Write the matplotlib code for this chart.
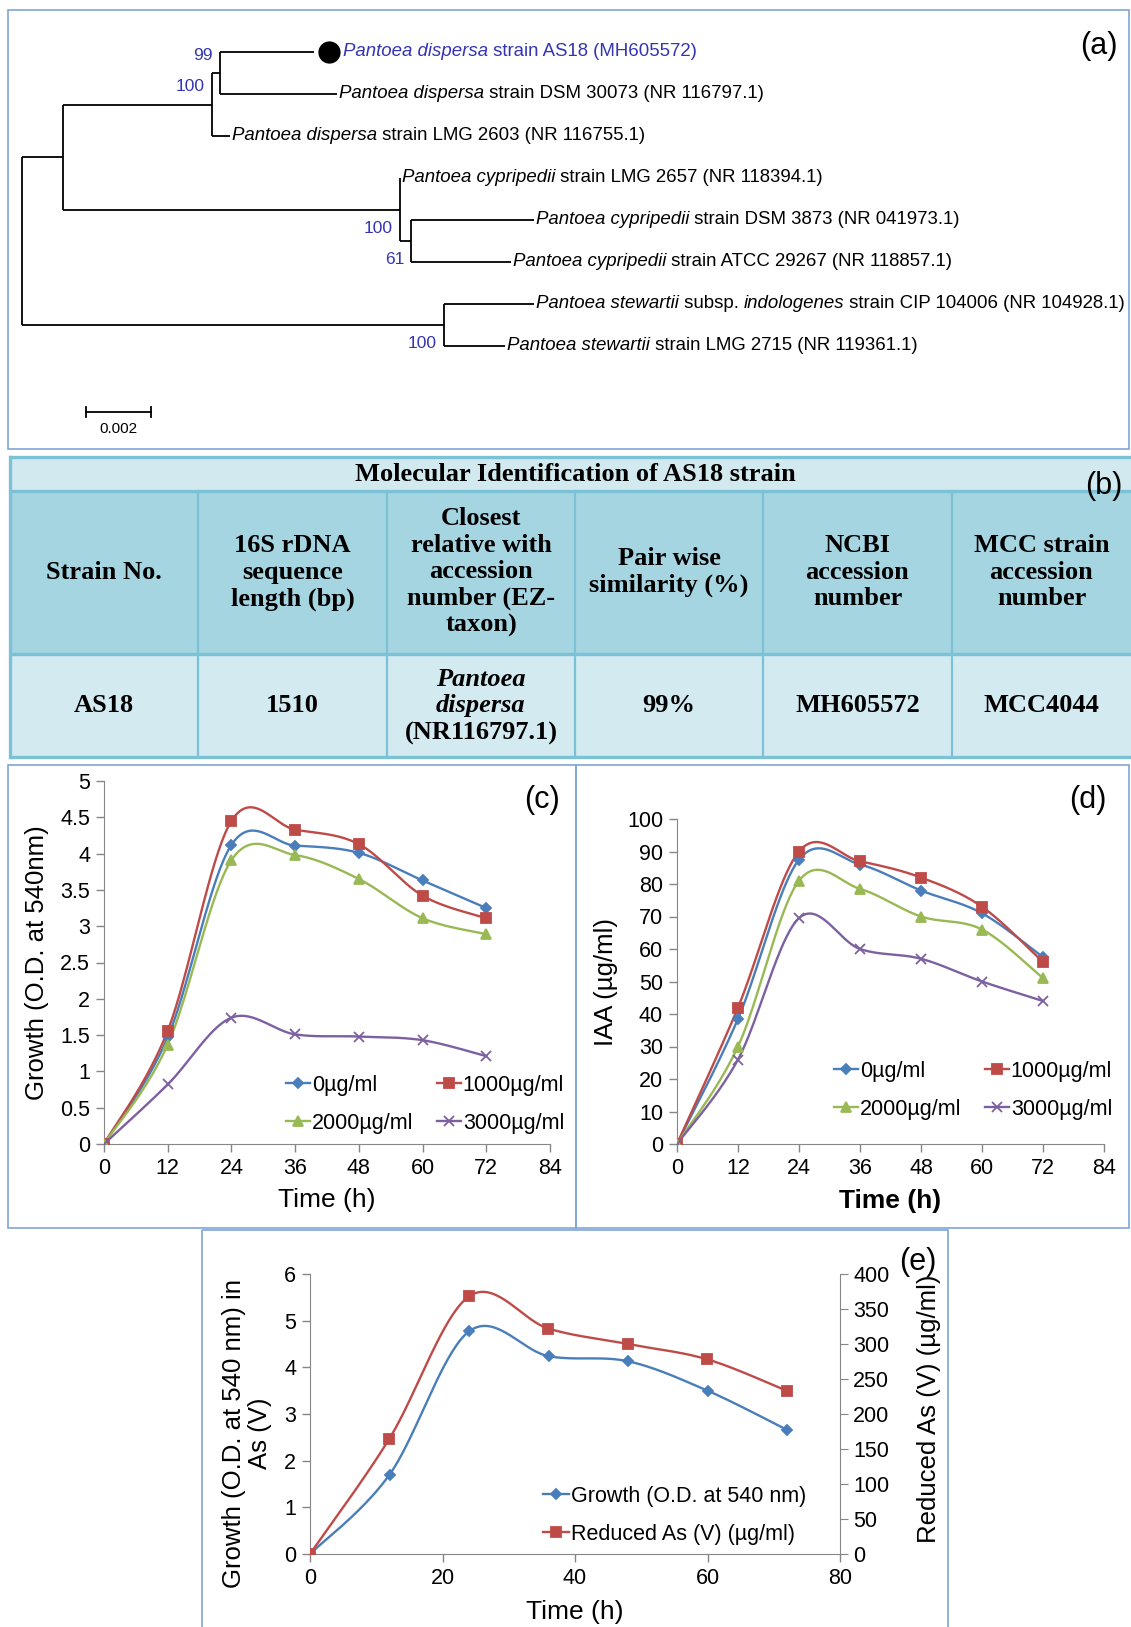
import matplotlib
matplotlib.use("Agg")
import matplotlib.pyplot as plt
from matplotlib.patches import Rectangle
from matplotlib.ticker import FuncFormatter
import numpy as np

W, H = 1131, 1627
SANS = ["Liberation Sans", "DejaVu Sans"]
SERIF = ["Liberation Serif", "DejaVu Serif"]
plt.rcParams["font.family"] = SANS

# ---------------- (a) tree ----------------
leaf_labels = [
    [("Pantoea dispersa", "italic"), (" strain AS18 (MH605572)", "normal")],
    [("Pantoea dispersa", "italic"), (" strain DSM 30073 (NR 116797.1)", "normal")],
    [("Pantoea dispersa", "italic"), (" strain LMG 2603 (NR 116755.1)", "normal")],
    [("Pantoea cypripedii", "italic"), (" strain LMG 2657 (NR 118394.1)", "normal")],
    [("Pantoea cypripedii", "italic"), (" strain DSM 3873 (NR 041973.1)", "normal")],
    [("Pantoea cypripedii", "italic"), (" strain ATCC 29267 (NR 118857.1)", "normal")],
    [("Pantoea stewartii", "italic"), (" subsp. ", "normal"), ("indologenes", "italic"),
     (" strain CIP 104006 (NR 104928.1)", "normal")],
    [("Pantoea stewartii", "italic"), (" strain LMG 2715 (NR 119361.1)", "normal")],
]
query_leaf = 0
# (branch length, leaf index) or (branch length, [children], bootstrap)
tree = (0.0, [
    (0.00126, [
        (0.00458, [
            (0.00025, [(0.00289, 0), (0.00360, 1)], 99),
            (0.00055, 2),
        ], 100),
        (0.01037, [
            (0.0, 3),
            (0.00034, [(0.00378, 4), (0.00308, 5)], 61),
        ], 100),
    ]),
    (0.01298, [(0.00277, 6), (0.00188, 7)], 100),
])
scale_bar = 0.002

# ---------------- (b) table ----------------
table_title = "Molecular Identification of AS18 strain"
table_header = ["Strain No.", "16S rDNA\nsequence\nlength (bp)",
                "Closest\nrelative with\naccession\nnumber (EZ-\ntaxon)",
                "Pair wise\nsimilarity (%)", "NCBI\naccession\nnumber",
                "MCC strain\naccession\nnumber"]
table_row = ["AS18", "1510", "Pantoea\ndispersa", "99%", "MH605572", "MCC4044"]
closest_accession = "(NR116797.1)"

# ---------------- (c)-(e) curves ----------------
hours = [0, 12, 24, 36, 48, 60, 72]
conc_labels = ["0µg/ml", "1000µg/ml", "2000µg/ml", "3000µg/ml"]
growth_0 = [0, 1.47, 4.12, 4.11, 4.01, 3.63, 3.25]
growth_1000 = [0, 1.56, 4.45, 4.33, 4.13, 3.42, 3.11]
growth_2000 = [0, 1.37, 3.91, 3.98, 3.65, 3.11, 2.89]
growth_3000 = [0, 0.82, 1.74, 1.51, 1.48, 1.43, 1.21]
iaa_0 = [0, 38.5, 87.5, 86, 78, 71, 57.5]
iaa_1000 = [0, 42, 90, 87, 82, 73, 56]
iaa_2000 = [0, 30, 81, 78.5, 70, 66, 51]
iaa_3000 = [0, 26, 69.5, 60, 57, 50, 44]
as_growth = [0, 1.70, 4.77, 4.24, 4.13, 3.50, 2.66]
as_reduced = [0, 165, 368, 322, 300, 278, 233]

colors = ["#4A7EBB", "#BE4B48", "#98B954", "#7D60A0"]
markers = ["D", "s", "^", "x"]
msizes = [5.5, 6.5, 7, 6.5]
AXIS_GREY = "#868686"
BOX = "#7FA6D8"
TICK_FS = 15.5
LABEL_FS = 18.5


def fx(x):
    return x / W


def fy(y):
    return 1 - y / H


def px_axes(fig, left, top, right, bottom):
    ax = fig.add_axes([fx(left), fy(bottom), (right - left) / W, (bottom - top) / H])
    ax.set_facecolor("none")
    return ax


def smooth(xs, ys, steps=40):
    # Excel-like smoothed line: cubic Bezier with Catmull-Rom control points
    p = np.column_stack([xs, ys]).astype(float)
    ext = np.vstack([p[0], p, p[-1]])
    t = np.linspace(0, 1, steps)[1:, None]
    out = [p[:1]]
    for i in range(len(p) - 1):
        p0, p1 = ext[i + 1], ext[i + 2]
        c1 = p0 + (ext[i + 2] - ext[i]) / 6
        c2 = p1 - (ext[i + 3] - ext[i + 1]) / 6
        out.append((1 - t) ** 3 * p0 + 3 * (1 - t) ** 2 * t * c1
                   + 3 * (1 - t) * t ** 2 * c2 + t ** 3 * p1)
    return np.vstack(out).T


def plot_series(ax, ys, k, label=None):
    sx, sy = smooth(hours, ys)
    ax.plot(sx, sy, color=colors[k], lw=1.7, zorder=2)
    ax.plot(hours, ys, ls="none", marker=markers[k], ms=msizes[k], color=colors[k],
            mew=1.3, zorder=3)
    return plt.Line2D([], [], color=colors[k], lw=1.7, marker=markers[k],
                      ms=msizes[k], mew=1.3, label=label)


def style_axes(ax):
    for side in ["top", "right"]:
        ax.spines[side].set_visible(False)
    for side in ["left", "bottom"]:
        ax.spines[side].set_color(AXIS_GREY)
    ax.tick_params(direction="out", length=6, color=AXIS_GREY, labelsize=TICK_FS,
                   width=1, pad=4)
    ax.yaxis.set_major_formatter(FuncFormatter(lambda v, _: f"{v:g}"))


def place_labels(ax, ylab_x, ylab_y, xlab_y):
    ax.yaxis.set_label_coords(ylab_x, ylab_y)
    ax.yaxis.label.set_va("center")
    ax.xaxis.set_label_coords(0.5, xlab_y)
    ax.xaxis.label.set_va("center")


fig = plt.figure(figsize=(W / 100, H / 100), dpi=100)
canvas = fig.add_axes([0, 0, 1, 1], zorder=-1)
canvas.set_xlim(0, W)
canvas.set_ylim(H, 0)
canvas.axis("off")

# panel frames
for (l, t, r, b) in [(8, 10, 1129, 449), (8, 765, 576, 1228), (576, 765, 1129, 1228),
                     (202, 1230, 948, 1650)]:
    canvas.add_patch(Rectangle((l, t), r - l, b - t, fill=False, ec=BOX, lw=1.2))

# ---------- tree ----------
k = scale_bar / 65.0          # units per pixel
root_px, leaf0_px, leaf_gap = 22, 52, 42
tax = px_axes(fig, 8, 10, 1129, 449)
tax.set_xlim((8 - root_px) * k, (1129 - root_px) * k)
tax.set_ylim((449 - leaf0_px) / leaf_gap, (10 - leaf0_px) / leaf_gap)
tax.axis("off")
tips = {}
LW_TREE = 1.3
TREE_FS = 13.4
BLUE_TXT = "#3434B4"


def draw_node(node, x_parent):
    x = x_parent + node[0]
    sub = node[1]
    if isinstance(sub, int):
        y = sub
        tips[sub] = x
    else:
        ys = [draw_node(ch, x) for ch in sub]
        tax.plot([x, x], [ys[0], ys[-1]], color="k", lw=LW_TREE, solid_capstyle="butt")
        y = (ys[0] + ys[-1]) / 2
        if len(node) > 2:
            dy = -0.42 if y < 2 else 0.45
            tax.text(x - 7 * k, y + dy, str(node[2]), ha="right", va="center",
                     fontsize=12.5, color=BLUE_TXT)
    tax.plot([x_parent, x], [y, y], color="k", lw=LW_TREE, solid_capstyle="butt")
    return y


draw_node(tree, 0.0)

for i, parts in enumerate(leaf_labels):
    x = tips[i] + 2 * k
    col = "black"
    if i == query_leaf:
        tax.plot(tips[i] + 15 * k, i, "o", color="black", ms=15)
        x = tips[i] + 29 * k
        col = BLUE_TXT
    prev = tax.text(x, i, parts[0][0], style=parts[0][1], fontsize=TREE_FS, color=col,
                    ha="left", va="center")
    for s, st in parts[1:]:
        prev = tax.annotate(s, xy=(1, 0), xycoords=prev, style=st, fontsize=TREE_FS,
                            color=col, ha="left", va="bottom")

sb_y = (412 - leaf0_px) / leaf_gap
sb_x0 = (86 - root_px) * k
tax.plot([sb_x0, sb_x0 + scale_bar], [sb_y, sb_y], color="k", lw=LW_TREE)
for xe in (sb_x0, sb_x0 + scale_bar):
    tax.plot([xe, xe], [sb_y - 0.13, sb_y + 0.13], color="k", lw=LW_TREE)
tax.text(sb_x0 + scale_bar / 2, sb_y + 0.4, f"{scale_bar:.3f}", ha="center", va="center",
         fontsize=11)

# ---------- table ----------
col_edges = [9, 198, 387, 575, 763, 952, 1140]
row_edges = [457, 490.5, 654, 757]
TEAL = "#7BC2D6"
for (y0, y1, fc) in [(row_edges[0], row_edges[1], "#D3E9F0"),
                     (row_edges[1], row_edges[2], "#A6D5E2"),
                     (row_edges[2], row_edges[3], "#D3EAF1")]:
    canvas.add_patch(Rectangle((9, y0), 1140 - 9, y1 - y0, fc=fc, ec="none"))
for y in row_edges:
    canvas.plot([9, 1140], [y, y], color=TEAL, lw=2.4, solid_capstyle="butt")
canvas.plot([10, 10], [row_edges[0], row_edges[3]], color=TEAL, lw=2.4)
for x in col_edges[1:-1]:
    canvas.plot([x, x], [row_edges[1], row_edges[3]], color=TEAL, lw=1.6)

tfont = dict(family=SERIF, weight="bold", fontsize=19, ha="center", va="center")
canvas.text(575, 474, table_title, **tfont)
hy = (row_edges[1] + row_edges[2]) / 2
dy_ = (row_edges[2] + row_edges[3]) / 2
for j in range(6):
    cx = (col_edges[j] + min(col_edges[j + 1], 1131)) / 2
    canvas.text(cx, hy, table_header[j], linespacing=1.2, **tfont)
    if j == 2:
        canvas.text(cx, dy_ - 13, table_row[j], style="italic", linespacing=1.17, **tfont)
        canvas.text(cx, dy_ + 28, closest_accession, **tfont)
    else:
        canvas.text(cx, dy_, table_row[j], **tfont)

order = [0, 2, 1, 3]
leg_kw = dict(frameon=False, fontsize=15.5, handletextpad=0.1,
              labelspacing=0.78, borderpad=0, borderaxespad=0, numpoints=1,
              loc="upper left", bbox_transform=fig.transFigure)

# ---------- (c) growth ----------
ax_c = px_axes(fig, 104, 781, 550, 1144)
hc = [plot_series(ax_c, s, i, conc_labels[i]) for i, s in
      enumerate([growth_0, growth_1000, growth_2000, growth_3000])]
ax_c.set_xlim(0, 84)
ax_c.set_ylim(0, 5)
ax_c.set_xticks(range(0, 85, 12))
ax_c.set_yticks(np.arange(0, 5.01, 0.5))
style_axes(ax_c)
ax_c.set_ylabel("Growth (O.D. at 540nm)", fontsize=LABEL_FS)
ax_c.set_xlabel("Time (h)", fontsize=19)
place_labels(ax_c, -0.150, 0.5, -0.154)
ax_c.legend([hc[i] for i in order], [conc_labels[i] for i in order], ncol=2,
            handlelength=1.1, columnspacing=1.1,
            bbox_to_anchor=(fx(286), fy(1075)), **leg_kw)

# ---------- (d) IAA ----------
ax_d = px_axes(fig, 677, 819, 1104, 1144)
hd = [plot_series(ax_d, s, i, conc_labels[i]) for i, s in
      enumerate([iaa_0, iaa_1000, iaa_2000, iaa_3000])]
ax_d.set_xlim(0, 84)
ax_d.set_ylim(0, 100)
ax_d.set_xticks(range(0, 85, 12))
ax_d.set_yticks(range(0, 101, 10))
style_axes(ax_d)
ax_d.set_ylabel("IAA (µg/ml)", fontsize=LABEL_FS)
ax_d.set_xlabel("Time (h)", fontsize=19, weight="bold")
place_labels(ax_d, -0.166, 0.5, -0.175)
ax_d.legend([hd[i] for i in order], [conc_labels[i] for i in order], ncol=2,
            handlelength=1.1, columnspacing=1.1,
            bbox_to_anchor=(fx(834), fy(1061)), **leg_kw)

# ---------- (e) arsenate reduction ----------
ax_e = px_axes(fig, 310, 1274, 840, 1554)
h1 = plot_series(ax_e, as_growth, 0, "Growth (O.D. at 540 nm)")
ax_e.set_xlim(0, 80)
ax_e.set_ylim(0, 6)
ax_e.set_xticks(range(0, 81, 20))
ax_e.set_yticks(range(0, 7))
style_axes(ax_e)
ax_r = ax_e.twinx()
ax_r.set_facecolor("none")
h2 = plot_series(ax_r, as_reduced, 1, "Reduced As (V) (µg/ml)")
ax_r.set_ylim(0, 400)
ax_r.set_yticks(range(0, 401, 50))
for side in ["top", "left", "bottom"]:
    ax_r.spines[side].set_visible(False)
ax_r.spines["right"].set_color(AXIS_GREY)
ax_r.tick_params(direction="out", length=6, color=AXIS_GREY, labelsize=TICK_FS)
ax_e.set_ylabel("Growth (O.D. at 540 nm) in\nAs (V)", fontsize=LABEL_FS, linespacing=1.15)
ax_e.set_xlabel("Time (h)", fontsize=19)
place_labels(ax_e, -0.119, 0.43, -0.207)
ax_r.set_ylabel("Reduced As (V) (µg/ml)", fontsize=LABEL_FS)
ax_r.yaxis.set_label_coords(1.167, 0.52)
ax_r.yaxis.label.set_va("center")
ax_e.legend([h1, h2], [h1.get_label(), h2.get_label()], handlelength=1.2,
            bbox_to_anchor=(fx(543), fy(1486)), **leg_kw)

# panel letters
for s, x, y in [("(a)", 1099, 46), ("(b)", 1104, 486), ("(c)", 542, 800),
                ("(d)", 1088, 800), ("(e)", 918, 1262)]:
    fig.text(fx(x), fy(y), s, fontsize=22, ha="center", va="center")

fig.savefig("out.png", dpi=100)
